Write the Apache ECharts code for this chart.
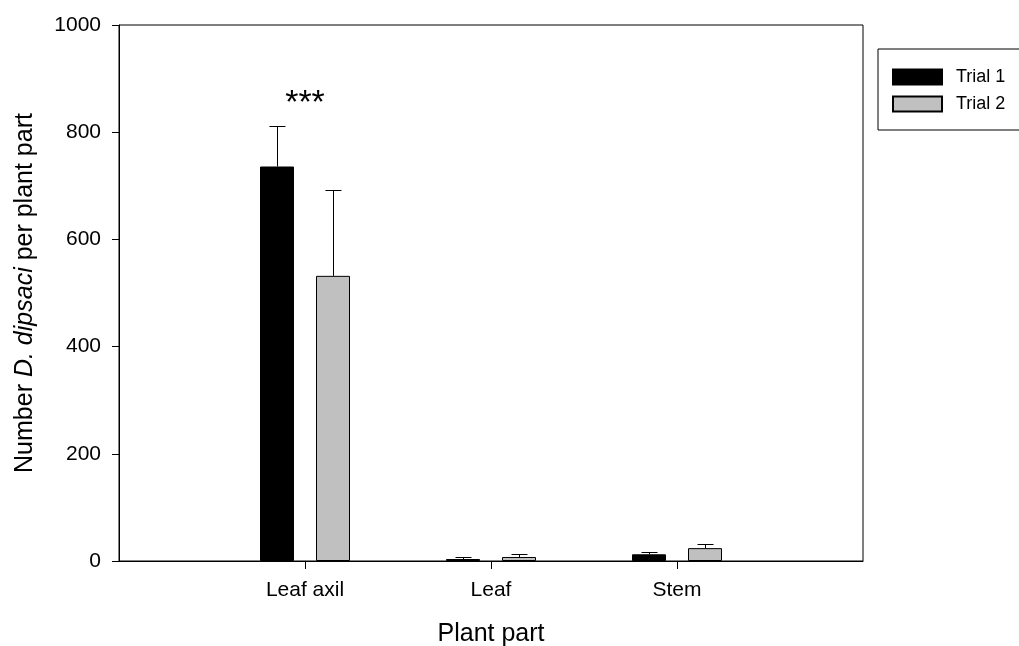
<!DOCTYPE html>
<html>
<head>
<meta charset="utf-8">
<script src="https://cdn.jsdelivr.net/npm/echarts@6/dist/echarts.min.js"></script>
<style>html,body{margin:0;padding:0;background:#fff}#c{width:1019px;height:646px}</style>
</head>
<body>
<div id="c"></div>
<script>
var categories = ['', 'Leaf axil', 'Leaf', 'Stem', ''];
var trial1 = [null, 736, 3.7, 12.5, null];
var trial1Err = [null, 76, 3, 4, null];
var trial2 = [null, 532, 7.5, 24, null];
var trial2Err = [null, 161, 5, 7.5, null];
var signif = ['', '***', '', '', ''];
var signifY = [null, 868, null, null, null];
var yTicks = [0, 200, 400, 600, 800, 1000];

var FONT = '"Liberation Sans", Arial, sans-serif';
var BAR_W = 34, BAR_GAP = 22;
var OFF = (BAR_W + BAR_GAP) / 2;

function errSeries(vals, errs, dir) {
  var data = [];
  for (var i = 0; i < vals.length; i++) {
    if (vals[i] != null) data.push([i, vals[i], errs[i]]);
  }
  return {
    type: 'custom',
    silent: true,
    z: 1,
    data: data,
    renderItem: function (params, api) {
      var base = api.coord([api.value(0), api.value(1)]);
      var top = api.coord([api.value(0), api.value(1) + api.value(2)]);
      var x = Math.round(base[0] + dir * OFF) + 0.5;
      var ty = Math.round(top[1]) + 0.5;
      var st = { stroke: '#000', lineWidth: 1 };
      return {
        type: 'group',
        children: [
          { type: 'line', shape: { x1: x, y1: base[1], x2: x, y2: ty }, style: st },
          { type: 'line', shape: { x1: x - 8, y1: ty, x2: x + 8, y2: ty }, style: st }
        ]
      };
    }
  };
}

var sigData = [];
for (var i = 0; i < signif.length; i++) {
  if (signif[i]) sigData.push([i, signifY[i], signif[i]]);
}

var chart = echarts.init(document.getElementById('c'), null, { renderer: 'canvas' });
chart.setOption({
  animation: false,
  backgroundColor: '#fff',
  textStyle: { fontFamily: FONT },
  grid: { left: 119, right: 156, top: 25, bottom: 85, containLabel: false, outerBoundsMode: 'none',
    show: true, borderColor: '#000', borderWidth: 1, backgroundColor: 'transparent' },
  legend: {
    orient: 'vertical',
    left: 878, top: 49,
    padding: [19, 30, 17, 14],
    itemWidth: 49, itemHeight: 15, itemGap: 9,
    borderColor: '#000', borderWidth: 1,
    textStyle: { fontFamily: FONT, fontSize: 18, color: '#000', padding: [0, 0, 0, 9] },
    data: [
      { name: 'Trial 1', icon: 'rect' },
      { name: 'Trial 2', icon: 'rect' }
    ]
  },
  xAxis: {
    type: 'category',
    data: categories,
    boundaryGap: false,
    name: 'Plant part',
    nameLocation: 'middle',
    nameGap: 61,
    nameTextStyle: { fontFamily: FONT, fontSize: 25, color: '#000' },
    axisLine: { lineStyle: { color: '#000', width: 1 } },
    axisTick: { show: true, length: 8, lineStyle: { color: '#000' }, interval: function (idx, val) { return val !== ''; } },
    axisLabel: { fontFamily: FONT, fontSize: 21, color: '#000', margin: 19, interval: 0 },
    splitLine: { show: false }
  },
  yAxis: {
    type: 'value',
    min: 0, max: 1000, interval: 200,
    name: '{n|Number }{i|D. dipsaci}{n| per plant part}',
    nameLocation: 'middle',
    nameGap: 81,
    nameRotate: 90,
    nameTextStyle: {
      rich: {
        n: { fontFamily: FONT, fontSize: 25, color: '#000' },
        i: { fontFamily: FONT, fontSize: 25, color: '#000', fontStyle: 'italic' }
      }
    },
    axisLine: { show: true, lineStyle: { color: '#000', width: 1 } },
    axisTick: { show: true, length: 7, lineStyle: { color: '#000' } },
    axisLabel: { fontFamily: FONT, fontSize: 21, color: '#000', margin: 18,
      formatter: function (v) { return yTicks.indexOf(v) >= 0 ? String(v) : ''; } },
    splitLine: { show: false }
  },
  series: [
    {
      name: 'Trial 1', type: 'bar', data: trial1,
      barWidth: BAR_W, barGap: (BAR_GAP / BAR_W * 100) + '%',
      itemStyle: { color: '#000', borderColor: '#000', borderWidth: 1 },
      z: 2
    },
    {
      name: 'Trial 2', type: 'bar', data: trial2,
      barWidth: BAR_W,
      itemStyle: { color: '#c0c0c0', borderColor: '#000', borderWidth: 1 },
      z: 2
    },
    errSeries(trial1, trial1Err, -1),
    errSeries(trial2, trial2Err, 1),
    {
      type: 'custom',
      silent: true,
      data: sigData,
      renderItem: function (params, api) {
        var p = api.coord([api.value(0), api.value(1)]);
        return {
          type: 'text',
          x: p[0], y: p[1] + 8,
          style: { text: sigData[params.dataIndex][2], fontFamily: FONT, fontSize: 34, fill: '#000', align: 'center', verticalAlign: 'middle' }
        };
      }
    }
  ]
});
</script>
</body>
</html>
